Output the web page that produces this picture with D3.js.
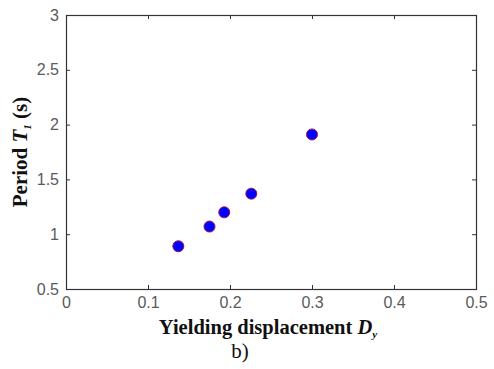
<!DOCTYPE html>
<html><head><meta charset="utf-8">
<script src="https://cdn.jsdelivr.net/npm/d3@7"></script>
<style>
body{margin:0;background:#fff;}
svg{display:block;}
</style></head>
<body>
<svg id="c" width="494" height="369"></svg>
<script>
const xValues = [0.137, 0.175, 0.193, 0.226, 0.300];
const yValues = [0.89, 1.07, 1.20, 1.37, 1.91];
const xTicks = [0, 0.1, 0.2, 0.3, 0.4, 0.5];
const yTicks = [0.5, 1, 1.5, 2, 2.5, 3];

const svg = d3.select("#c");
const L = 66, R = 476, T = 15, B = 289;
const x = d3.scaleLinear().domain([0, 0.5]).range([L, R]);
const y = d3.scaleLinear().domain([0.5, 3]).range([B, T]);

const tickFont = "Arial, 'Liberation Sans', sans-serif";
const fmt = d => d3.format("")(d);

function styleAxis(g, showLabels){
  g.select(".domain").remove();
  g.selectAll(".tick line").attr("stroke", "#333").attr("stroke-width", 1);
  g.selectAll(".tick text").attr("fill", "#5a5a5a").attr("font-size", 16).attr("font-family", tickFont);
  if(!showLabels) g.selectAll(".tick text").remove();
}

// bottom
svg.append("g").attr("transform", `translate(0,${B})`)
  .call(d3.axisBottom(x).tickValues(xTicks).tickSize(-4).tickPadding(8).tickFormat(fmt))
  .call(g => styleAxis(g, true));
// top
svg.append("g").attr("transform", `translate(0,${T})`)
  .call(d3.axisTop(x).tickValues(xTicks).tickSize(-4))
  .call(g => styleAxis(g, false));
// left
svg.append("g").attr("transform", `translate(${L},0)`)
  .call(d3.axisLeft(y).tickValues(yTicks).tickSize(-4).tickPadding(7).tickFormat(fmt))
  .call(g => styleAxis(g, true));
// right
svg.append("g").attr("transform", `translate(${R},0)`)
  .call(d3.axisRight(y).tickValues(yTicks).tickSize(-4))
  .call(g => styleAxis(g, false));

// box
svg.append("rect").attr("x", L + 0.5).attr("y", T + 0.5)
  .attr("width", R - L).attr("height", B - T)
  .attr("fill", "none").attr("stroke", "#333").attr("stroke-width", 1.2);

// points
svg.append("g").selectAll("circle").data(xValues.map((v, i) => [v, yValues[i]]))
  .join("circle")
  .attr("cx", d => x(d[0])).attr("cy", d => y(d[1])).attr("r", 5.5)
  .attr("fill", "#0000ff").attr("stroke", "#a01050").attr("stroke-width", 1);

const serif = "'Times New Roman', 'Liberation Serif', serif";
// y label
const yl = svg.append("text")
  .attr("transform", `translate(27,${(T + B) / 2}) rotate(-90)`)
  .attr("text-anchor", "middle")
  .attr("font-family", serif).attr("font-weight", "bold").attr("font-size", 21).attr("fill", "#111");
yl.append("tspan").text("Period ");
yl.append("tspan").attr("font-style", "italic").text("T");
yl.append("tspan").attr("font-style", "italic").attr("font-size", 11).attr("dy", 4).text("1");
yl.append("tspan").attr("dy", -4).text(" (s)");

// x label
const xl = svg.append("text")
  .attr("x", 268).attr("y", 334)
  .attr("text-anchor", "middle")
  .attr("font-family", serif).attr("font-weight", "bold").attr("font-size", 20.5).attr("fill", "#111");
xl.append("tspan").text("Yielding displacement ");
xl.append("tspan").attr("font-style", "italic").text("D");
xl.append("tspan").attr("font-style", "italic").attr("font-size", 11).attr("dy", 4).text("y");

// caption
svg.append("text").attr("x", 240).attr("y", 358).attr("text-anchor", "middle")
  .attr("font-family", serif).attr("font-size", 21).attr("fill", "#111").text("b)");
</script>
</body></html>
